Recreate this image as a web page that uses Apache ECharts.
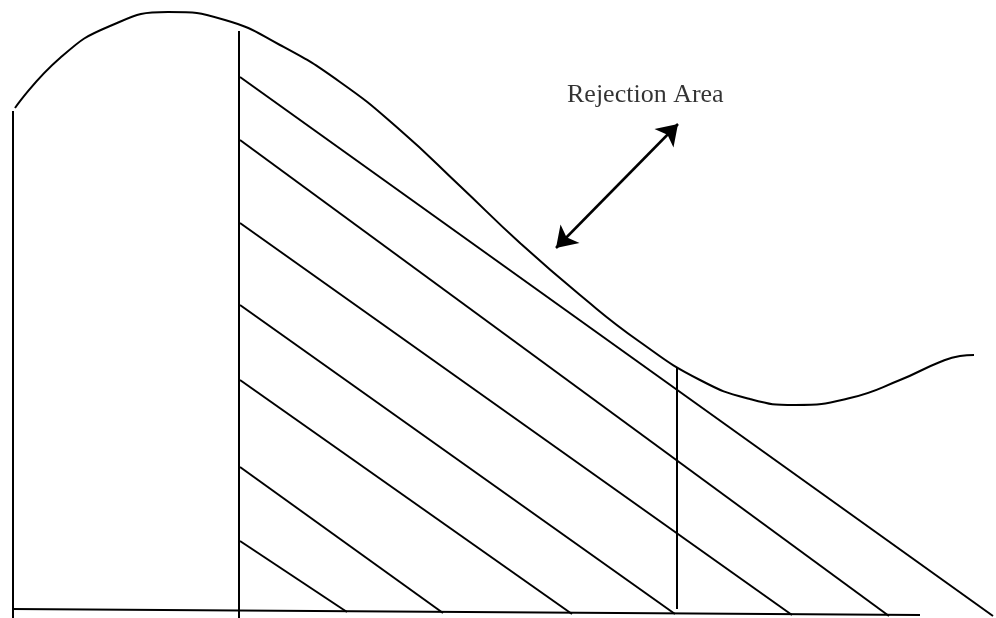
<!DOCTYPE html>
<html>
<head>
<meta charset="utf-8">
<script src="https://cdn.jsdelivr.net/npm/echarts@6/dist/echarts.min.js"></script>
<style>
html, body { margin: 0; padding: 0; background: #fff; }
#chart { width: 996px; height: 618px; }
</style>
</head>
<body>
<div id="chart"></div>
<script>
// density curve (x to the right, y downward)
var curveX = [15, 60, 110, 168, 225, 280, 340, 400, 460, 520, 580, 640, 700, 750, 795, 850, 900, 940, 960, 974];
var curveY = [108, 58, 26, 12, 20, 45, 82, 130, 186, 243, 295, 342, 380, 399, 405, 398, 380, 362, 356, 355];

// hatch lines: start on the x = 240 line, end on the base line
var hatchStartX = 240;
var hatchStartY = [77, 140, 223, 305, 380, 467, 541];
var hatchEndX = [993, 889, 792, 675, 572, 443, 347];
var hatchEndY = [616, 616, 615, 614, 614, 613, 612];

// vertical lines
var verticalX = [13, 239, 677];
var verticalTop = [111, 31, 368];
var verticalBottom = [618, 618, 609];

// base line
var baseX = [12, 920];
var baseY = [609, 615];

// double arrow and its label
var arrowFrom = [556, 248];
var arrowTo = [678, 124];
var labelText = 'Rejection Area';
var labelPos = [567, 103];

var chart = echarts.init(document.getElementById('chart'));

var segments = [];
for (var i = 0; i < verticalX.length; i++) {
    segments.push({ coords: [[verticalX[i], verticalTop[i]], [verticalX[i], verticalBottom[i]]] });
}
for (var j = 0; j < hatchStartY.length; j++) {
    segments.push({ coords: [[hatchStartX, hatchStartY[j]], [hatchEndX[j], hatchEndY[j]]] });
}
segments.push({ coords: [[baseX[0], baseY[0]], [baseX[1], baseY[1]]] });

var curveData = curveX.map(function(x, k) { return [x, curveY[k]]; });

var option = {
    animation: false,
    backgroundColor: '#fff',
    grid: { left: 0, right: 0, top: 0, bottom: 0 },
    xAxis: { type: 'value', min: 0, max: 996, show: false },
    yAxis: { type: 'value', min: 0, max: 618, inverse: true, show: false },
    series: [{
        type: 'line',
        data: curveData,
        smooth: 0.5,
        symbol: 'none',
        lineStyle: { color: '#000', width: 2 }
    }, {
        type: 'lines',
        coordinateSystem: 'cartesian2d',
        data: segments,
        symbol: 'none',
        lineStyle: { color: '#000', width: 2, opacity: 1 }
    }, {
        type: 'lines',
        coordinateSystem: 'cartesian2d',
        data: [{ coords: [arrowFrom, arrowTo] }],
        symbol: ['arrow', 'arrow'],
        symbolSize: 20,
        lineStyle: { color: '#000', width: 2.5, opacity: 1 },
        itemStyle: { color: '#000' }
    }, {
        type: 'scatter',
        data: [labelPos],
        symbolSize: 0,
        label: {
            show: true,
            formatter: labelText,
            position: 'right',
            distance: 0,
            color: '#000',
            fontFamily: 'Liberation Serif',
            fontSize: 26,
            verticalAlign: 'bottom',
            offset: [0, 5]
        }
    }]
};
chart.setOption(option);
</script>
</body>
</html>
